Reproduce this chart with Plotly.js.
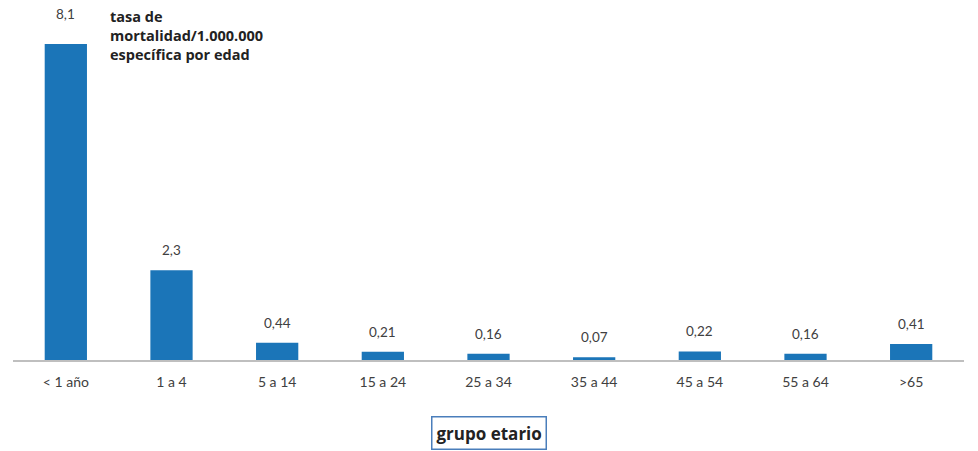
<!DOCTYPE html>
<html><head><meta charset="utf-8">
<script src="https://cdn.plot.ly/plotly-3.0.1.min.js"></script>
<style>html,body{margin:0;padding:0;background:#fff}</style>
</head><body>
<div id="chart" style="width:978px;height:451px"></div>
<script>
const categories = ["< 1 año", "1 a 4", "5 a 14", "15 a 24", "25 a 34", "35 a 44", "45 a 54", "55 a 64", ">65"];
const values = [8.1, 2.3, 0.44, 0.21, 0.16, 0.07, 0.22, 0.16, 0.41];
const valueLabels = ["8,1", "2,3", "0,44", "0,21", "0,16", "0,07", "0,22", "0,16", "0,41"];

const font = "Lato, 'Open Sans', sans-serif";
const boldFont = "'Open Sans', Lato, sans-serif";
const annotations = categories.map((c, i) => ({
  x: c, y: values[i], xref: 'x', yref: 'y',
  text: valueLabels[i], showarrow: false,
  yanchor: 'bottom', yshift: i === 0 ? 20 : 10,
  font: {family: font, size: 13.5, color: '#404040'}
}));
annotations.push({
  xref: 'paper', yref: 'paper', x: 0.1, y: 1.015, xanchor: 'left', yanchor: 'top',
  align: 'left', showarrow: false,
  text: '<b>tasa de<br>mortalidad/1.000.000<br>específica por edad</b>',
  font: {family: boldFont, size: 14.5, color: '#222'}
});
annotations.push({
  xref: 'paper', yref: 'paper', x: 0.5, y: -0.208, xanchor: 'center', yanchor: 'middle',
  showarrow: false, text: '<b>grupo etario</b>',
  font: {family: boldFont, size: 17, color: '#222'},
  bordercolor: '#4a7ebb', borderwidth: 1.5, borderpad: 4, bgcolor: '#fff'
});

Plotly.newPlot('chart', [{
  type: 'bar', x: categories, y: values, width: 0.4,
  marker: {color: '#1b75b8'}, hoverinfo: 'none'
}], {
  width: 978, height: 451,
  margin: {l: 13, r: 14, t: 10, b: 91},
  paper_bgcolor: '#fff', plot_bgcolor: '#fff',
  showlegend: false,
  xaxis: {
    type: 'category', showline: true, linecolor: '#bfbfbf', linewidth: 1.5,
    ticks: '', showgrid: false, zeroline: false, ticklabelstandoff: 9,
    tickfont: {family: font, size: 14, color: '#404040'}
  },
  yaxis: {range: [0, 8.97], visible: false, showgrid: false, zeroline: false},
  annotations: annotations
}, {staticPlot: true});
</script>
</body></html>
